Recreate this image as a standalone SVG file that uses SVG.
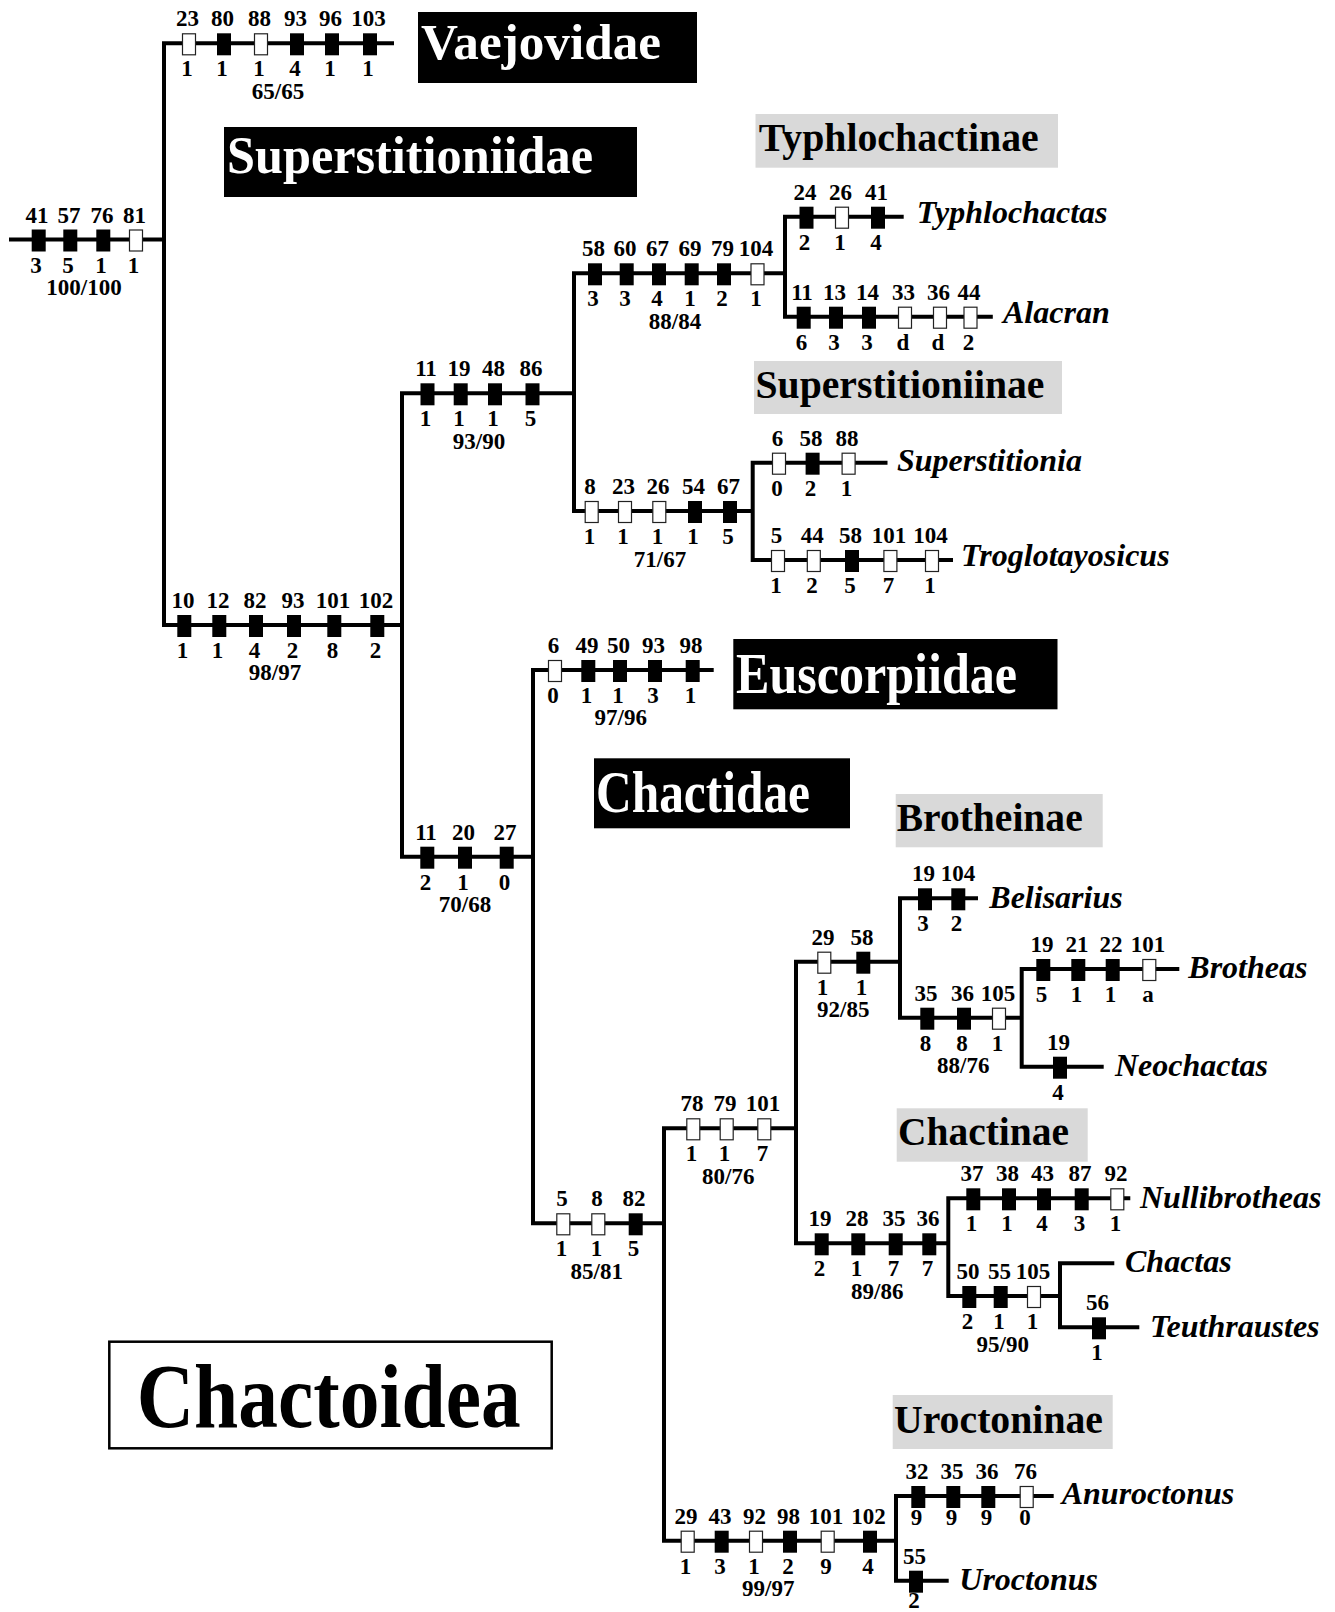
<svg xmlns="http://www.w3.org/2000/svg" xmlns:xlink="http://www.w3.org/1999/xlink" width="1335" height="1612" viewBox="0 0 1335 1612">
<style>
  text { font-family: "Liberation Serif", "Times New Roman", serif; font-weight: bold; }
  .n { font-size: 23px; text-anchor: middle; fill: #000; }
  .tx { font-size: 32px; font-style: italic; fill: #000; }
  .fam { fill: #fff; }
  .sub { font-size: 40px; fill: #000; }
  .tree { fill: none; stroke: #000; stroke-width: 4; stroke-linecap: square; stroke-linejoin: miter; }
</style>
<defs>
  <rect id="f" x="-7" y="-10" width="14" height="22" fill="#000"/>
  <rect id="o" x="-6.5" y="-9.5" width="13" height="21" fill="#fff" stroke="#222" stroke-width="1.2"/>
</defs>
<rect width="1335" height="1612" fill="#fff"/>

<!-- tree branches -->
<g id="connectors">
  <path class="tree" d="M11 239.5 H164 M164 43.3 V625 M164 43.3 H392 M164 625 H402
    M402 393.3 V856.7 M402 393.3 H574 M574 273.3 V511 M574 273.3 H785
    M785 216.7 V316.7 M785 216.7 H901.7 M785 316.7 H990.8
    M574 511 H752.7 M752.7 462.7 V560 M752.7 462.7 H885.5 M752.7 560 H951
    M402 856.7 H533 M533 670 V1223.3 M533 670 H711.7 M533 1223.3 H664
    M664 1128.3 V1540.7 M664 1128.3 H796 M796 961.7 V1243.3 M796 961.7 H900
    M900 898.3 V1017.7 M900 898.3 H976 M900 1017.7 H1021.7
    M1021.7 969 V1066.7 M1021.7 969 H1177.3 M1021.7 1066.7 H1101.7
    M796 1243.3 H948.3 M948.3 1198.3 V1296 M948.3 1198.3 H1128.3 M948.3 1296 H1060
    M1060 1263.3 V1327.3 M1060 1263.3 H1112.3 M1060 1327.3 H1137.3
    M664 1540.7 H896 M896 1496 V1580.7 M896 1496 H1051.7 M896 1580.7 H946.7"/>
</g>

<!-- character states on each branch -->
<g id="root">
  <use href="#f" x="38.7" y="239.5"/><use href="#f" x="70.3" y="239.5"/><use href="#f" x="103.3" y="239.5"/><use href="#o" x="136" y="239.5"/>
  <text class="n" x="37" y="222.5">41</text><text class="n" x="69" y="222.5">57</text><text class="n" x="102" y="222.5">76</text><text class="n" x="134.5" y="222.5">81</text>
  <text class="n" x="36" y="272.5">3</text><text class="n" x="68" y="272.5">5</text><text class="n" x="101" y="272.5">1</text><text class="n" x="133.5" y="272.5">1</text>
  <text class="n" x="84" y="294.5">100/100</text>
</g>
<g id="branch-vaejovidae">
  <use href="#o" x="189" y="43.3"/><use href="#f" x="224" y="43.3"/><use href="#o" x="261" y="43.3"/><use href="#f" x="297" y="43.3"/><use href="#f" x="332" y="43.3"/><use href="#f" x="370" y="43.3"/>
  <text class="n" x="187.5" y="26.3">23</text><text class="n" x="222.5" y="26.3">80</text><text class="n" x="259.5" y="26.3">88</text><text class="n" x="295.5" y="26.3">93</text><text class="n" x="330.5" y="26.3">96</text><text class="n" x="368.5" y="26.3">103</text>
  <text class="n" x="187" y="76.3">1</text><text class="n" x="222" y="76.3">1</text><text class="n" x="259" y="76.3">1</text><text class="n" x="295" y="76.3">4</text><text class="n" x="330" y="76.3">1</text><text class="n" x="368" y="76.3">1</text>
  <text class="n" x="278" y="99">65/65</text>
</g>
<g id="branch-superstitioniidae">
  <use href="#f" x="184.3" y="625"/><use href="#f" x="219.3" y="625"/><use href="#f" x="256" y="625"/><use href="#f" x="294" y="625"/><use href="#f" x="334.3" y="625"/><use href="#f" x="377.3" y="625"/>
  <text class="n" x="183" y="608">10</text><text class="n" x="218" y="608">12</text><text class="n" x="255" y="608">82</text><text class="n" x="293" y="608">93</text><text class="n" x="333" y="608">101</text><text class="n" x="376" y="608">102</text>
  <text class="n" x="182.5" y="658">1</text><text class="n" x="217.5" y="658">1</text><text class="n" x="254.5" y="658">4</text><text class="n" x="292.5" y="658">2</text><text class="n" x="332.5" y="658">8</text><text class="n" x="375.5" y="658">2</text>
  <text class="n" x="275" y="680">98/97</text>
</g>
<g id="branch-11-86">
  <use href="#f" x="427.5" y="393.3"/><use href="#f" x="460.7" y="393.3"/><use href="#f" x="495" y="393.3"/><use href="#f" x="532.5" y="393.3"/>
  <text class="n" x="426" y="376.3">11</text><text class="n" x="459" y="376.3">19</text><text class="n" x="493.5" y="376.3">48</text><text class="n" x="531" y="376.3">86</text>
  <text class="n" x="425.5" y="426.3">1</text><text class="n" x="459" y="426.3">1</text><text class="n" x="493" y="426.3">1</text><text class="n" x="530.5" y="426.3">5</text>
  <text class="n" x="479" y="448.5">93/90</text>
</g>
<g id="branch-typhlochactinae">
  <use href="#f" x="595" y="273.3"/><use href="#f" x="626.7" y="273.3"/><use href="#f" x="659" y="273.3"/><use href="#f" x="691.7" y="273.3"/><use href="#f" x="724" y="273.3"/><use href="#o" x="757.5" y="273.3"/>
  <text class="n" x="593.5" y="256.3">58</text><text class="n" x="625" y="256.3">60</text><text class="n" x="657.5" y="256.3">67</text><text class="n" x="690" y="256.3">69</text><text class="n" x="722.5" y="256.3">79</text><text class="n" x="756" y="256.3">104</text>
  <text class="n" x="593" y="306.3">3</text><text class="n" x="625" y="306.3">3</text><text class="n" x="657" y="306.3">4</text><text class="n" x="690" y="306.3">1</text><text class="n" x="722" y="306.3">2</text><text class="n" x="756" y="306.3">1</text>
  <text class="n" x="675" y="328.5">88/84</text>
</g>
<g id="branch-typhlochactas">
  <use href="#f" x="806.5" y="216.7"/><use href="#o" x="842" y="216.7"/><use href="#f" x="878" y="216.7"/>
  <text class="n" x="805" y="199.7">24</text><text class="n" x="840.5" y="199.7">26</text><text class="n" x="876.5" y="199.7">41</text>
  <text class="n" x="804.5" y="249.7">2</text><text class="n" x="840" y="249.7">1</text><text class="n" x="876" y="249.7">4</text>
</g>
<g id="branch-alacran">
  <use href="#f" x="803.7" y="316.7"/><use href="#f" x="836" y="316.7"/><use href="#f" x="869" y="316.7"/><use href="#o" x="905" y="316.7"/><use href="#o" x="940" y="316.7"/><use href="#o" x="970.5" y="316.7"/>
  <text class="n" x="802" y="299.7">11</text><text class="n" x="834.5" y="299.7">13</text><text class="n" x="867.5" y="299.7">14</text><text class="n" x="903.5" y="299.7">33</text><text class="n" x="938.5" y="299.7">36</text><text class="n" x="969" y="299.7">44</text>
  <text class="n" x="801.5" y="349.7">6</text><text class="n" x="834" y="349.7">3</text><text class="n" x="867" y="349.7">3</text><text class="n" x="903" y="349.7">d</text><text class="n" x="938" y="349.7">d</text><text class="n" x="968.5" y="349.7">2</text>
</g>
<g id="branch-superstitioniinae">
  <use href="#o" x="591.7" y="511"/><use href="#o" x="625" y="511"/><use href="#o" x="659.3" y="511"/><use href="#f" x="695" y="511"/><use href="#f" x="730" y="511"/>
  <text class="n" x="590" y="494">8</text><text class="n" x="623.5" y="494">23</text><text class="n" x="658" y="494">26</text><text class="n" x="693.5" y="494">54</text><text class="n" x="728.5" y="494">67</text>
  <text class="n" x="589.5" y="544">1</text><text class="n" x="623" y="544">1</text><text class="n" x="657.5" y="544">1</text><text class="n" x="693" y="544">1</text><text class="n" x="728" y="544">5</text>
  <text class="n" x="660" y="566.5">71/67</text>
</g>
<g id="branch-superstitionia">
  <use href="#o" x="779" y="462.7"/><use href="#f" x="812.6" y="462.7"/><use href="#o" x="848.6" y="462.7"/>
  <text class="n" x="777.5" y="445.7">6</text><text class="n" x="811" y="445.7">58</text><text class="n" x="847" y="445.7">88</text>
  <text class="n" x="777" y="495.7">0</text><text class="n" x="810.5" y="495.7">2</text><text class="n" x="846.5" y="495.7">1</text>
</g>
<g id="branch-troglotayosicus">
  <use href="#o" x="778" y="560"/><use href="#o" x="813.8" y="560"/><use href="#f" x="852" y="560"/><use href="#o" x="890.4" y="560"/><use href="#o" x="932" y="560"/>
  <text class="n" x="776.5" y="543">5</text><text class="n" x="812.3" y="543">44</text><text class="n" x="850.5" y="543">58</text><text class="n" x="889" y="543">101</text><text class="n" x="930.5" y="543">104</text>
  <text class="n" x="776" y="593">1</text><text class="n" x="812" y="593">2</text><text class="n" x="850" y="593">5</text><text class="n" x="888.5" y="593">7</text><text class="n" x="930" y="593">1</text>
</g>
<g id="branch-11-27">
  <use href="#f" x="427.3" y="856.7"/><use href="#f" x="465" y="856.7"/><use href="#f" x="506.7" y="856.7"/>
  <text class="n" x="426" y="839.7">11</text><text class="n" x="463.5" y="839.7">20</text><text class="n" x="505" y="839.7">27</text>
  <text class="n" x="425.5" y="889.7">2</text><text class="n" x="463" y="889.7">1</text><text class="n" x="504.5" y="889.7">0</text>
  <text class="n" x="465" y="912">70/68</text>
</g>
<g id="branch-euscorpiidae">
  <use href="#o" x="555" y="670"/><use href="#f" x="588.3" y="670"/><use href="#f" x="620" y="670"/><use href="#f" x="655" y="670"/><use href="#f" x="692.7" y="670"/>
  <text class="n" x="553.5" y="653">6</text><text class="n" x="587" y="653">49</text><text class="n" x="618.5" y="653">50</text><text class="n" x="653.5" y="653">93</text><text class="n" x="691" y="653">98</text>
  <text class="n" x="553" y="703">0</text><text class="n" x="586.5" y="703">1</text><text class="n" x="618" y="703">1</text><text class="n" x="653" y="703">3</text><text class="n" x="690.5" y="703">1</text>
  <text class="n" x="620.7" y="725">97/96</text>
</g>
<g id="branch-chactidae">
  <use href="#o" x="563.3" y="1223.3"/><use href="#o" x="598.3" y="1223.3"/><use href="#f" x="635.7" y="1223.3"/>
  <text class="n" x="562" y="1206.3">5</text><text class="n" x="597" y="1206.3">8</text><text class="n" x="634" y="1206.3">82</text>
  <text class="n" x="561.5" y="1256.3">1</text><text class="n" x="596.5" y="1256.3">1</text><text class="n" x="633.5" y="1256.3">5</text>
  <text class="n" x="596.7" y="1278.5">85/81</text>
</g>
<g id="branch-78-101">
  <use href="#o" x="693.3" y="1128.3"/><use href="#o" x="726.7" y="1128.3"/><use href="#o" x="764.3" y="1128.3"/>
  <text class="n" x="692" y="1111.3">78</text><text class="n" x="725" y="1111.3">79</text><text class="n" x="763" y="1111.3">101</text>
  <text class="n" x="691.5" y="1161.3">1</text><text class="n" x="724.5" y="1161.3">1</text><text class="n" x="762.5" y="1161.3">7</text>
  <text class="n" x="728.3" y="1183.5">80/76</text>
</g>
<g id="branch-brotheinae">
  <use href="#o" x="824.3" y="961.7"/><use href="#f" x="863.3" y="961.7"/>
  <text class="n" x="823" y="944.7">29</text><text class="n" x="862" y="944.7">58</text>
  <text class="n" x="822.5" y="994.7">1</text><text class="n" x="861.5" y="994.7">1</text>
  <text class="n" x="843.3" y="1017">92/85</text>
</g>
<g id="branch-belisarius">
  <use href="#f" x="925" y="898.3"/><use href="#f" x="958.3" y="898.3"/>
  <text class="n" x="923.5" y="881.3">19</text><text class="n" x="958" y="881.3">104</text>
  <text class="n" x="923" y="931.3">3</text><text class="n" x="956.5" y="931.3">2</text>
</g>
<g id="branch-35-105">
  <use href="#f" x="927.3" y="1017.7"/><use href="#f" x="964" y="1017.7"/><use href="#o" x="999" y="1017.7"/>
  <text class="n" x="926" y="1000.7">35</text><text class="n" x="962.5" y="1000.7">36</text><text class="n" x="998" y="1000.7">105</text>
  <text class="n" x="925.5" y="1050.7">8</text><text class="n" x="962" y="1050.7">8</text><text class="n" x="997.5" y="1050.7">1</text>
  <text class="n" x="963.3" y="1073">88/76</text>
</g>
<g id="branch-brotheas">
  <use href="#f" x="1043.3" y="969"/><use href="#f" x="1078.3" y="969"/><use href="#f" x="1112.7" y="969"/><use href="#o" x="1149.3" y="969"/>
  <text class="n" x="1042" y="952">19</text><text class="n" x="1077" y="952">21</text><text class="n" x="1111" y="952">22</text><text class="n" x="1148" y="952">101</text>
  <text class="n" x="1041.5" y="1002">5</text><text class="n" x="1076.5" y="1002">1</text><text class="n" x="1110.5" y="1002">1</text><text class="n" x="1148" y="1002">a</text>
</g>
<g id="branch-neochactas">
  <use href="#f" x="1060" y="1066.7"/>
  <text class="n" x="1058.5" y="1049.7">19</text>
  <text class="n" x="1058" y="1099.7">4</text>
</g>
<g id="branch-chactinae">
  <use href="#f" x="821.7" y="1243.3"/><use href="#f" x="858.3" y="1243.3"/><use href="#f" x="895.7" y="1243.3"/><use href="#f" x="929.3" y="1243.3"/>
  <text class="n" x="820" y="1226.3">19</text><text class="n" x="857" y="1226.3">28</text><text class="n" x="894" y="1226.3">35</text><text class="n" x="928" y="1226.3">36</text>
  <text class="n" x="819.5" y="1276.3">2</text><text class="n" x="856.5" y="1276.3">1</text><text class="n" x="893.5" y="1276.3">7</text><text class="n" x="927.5" y="1276.3">7</text>
  <text class="n" x="877.3" y="1298.5">89/86</text>
</g>
<g id="branch-nullibrotheas">
  <use href="#f" x="973.3" y="1198.3"/><use href="#f" x="1009" y="1198.3"/><use href="#f" x="1044" y="1198.3"/><use href="#f" x="1081.7" y="1198.3"/><use href="#o" x="1117.3" y="1198.3"/>
  <text class="n" x="972" y="1181.3">37</text><text class="n" x="1007.5" y="1181.3">38</text><text class="n" x="1042.5" y="1181.3">43</text><text class="n" x="1080" y="1181.3">87</text><text class="n" x="1116" y="1181.3">92</text>
  <text class="n" x="971.5" y="1231.3">1</text><text class="n" x="1007" y="1231.3">1</text><text class="n" x="1042" y="1231.3">4</text><text class="n" x="1079.5" y="1231.3">3</text><text class="n" x="1115.5" y="1231.3">1</text>
</g>
<g id="branch-50-105">
  <use href="#f" x="969.3" y="1296"/><use href="#f" x="1000.7" y="1296"/><use href="#o" x="1034" y="1296"/>
  <text class="n" x="968" y="1279">50</text><text class="n" x="999.5" y="1279">55</text><text class="n" x="1033" y="1279">105</text>
  <text class="n" x="967.5" y="1329">2</text><text class="n" x="999" y="1329">1</text><text class="n" x="1032.5" y="1329">1</text>
  <text class="n" x="1002.7" y="1352">95/90</text>
</g>
<g id="branch-teuthraustes">
  <use href="#f" x="1099" y="1327.3"/>
  <text class="n" x="1097.5" y="1310.3">56</text>
  <text class="n" x="1097" y="1360.3">1</text>
</g>
<g id="branch-uroctoninae">
  <use href="#o" x="687.7" y="1540.7"/><use href="#f" x="721.7" y="1540.7"/><use href="#o" x="756" y="1540.7"/><use href="#f" x="790" y="1540.7"/><use href="#o" x="827.7" y="1540.7"/><use href="#f" x="870" y="1540.7"/>
  <text class="n" x="686" y="1523.7">29</text><text class="n" x="720" y="1523.7">43</text><text class="n" x="754.5" y="1523.7">92</text><text class="n" x="788.5" y="1523.7">98</text><text class="n" x="826" y="1523.7">101</text><text class="n" x="868.5" y="1523.7">102</text>
  <text class="n" x="685.5" y="1573.7">1</text><text class="n" x="720" y="1573.7">3</text><text class="n" x="754" y="1573.7">1</text><text class="n" x="788" y="1573.7">2</text><text class="n" x="826" y="1573.7">9</text><text class="n" x="868" y="1573.7">4</text>
  <text class="n" x="768.3" y="1596">99/97</text>
</g>
<g id="branch-anuroctonus">
  <use href="#f" x="918.3" y="1496"/><use href="#f" x="953.3" y="1496"/><use href="#f" x="988.3" y="1496"/><use href="#o" x="1026.7" y="1496"/>
  <text class="n" x="917" y="1479">32</text><text class="n" x="952" y="1479">35</text><text class="n" x="987" y="1479">36</text><text class="n" x="1025.5" y="1479">76</text>
  <text class="n" x="916.5" y="1525">9</text><text class="n" x="951.5" y="1525">9</text><text class="n" x="986.5" y="1525">9</text><text class="n" x="1025" y="1525">0</text>
</g>
<g id="branch-uroctonus">
  <use href="#f" x="916" y="1580.7"/>
  <text class="n" x="914.5" y="1563.7">55</text>
  <text class="n" x="914" y="1607.5" font-size="21">2</text>
</g>

<!-- terminal taxa -->
<g id="taxon-typhlochactas"><text class="tx" x="916.7" y="223.3">Typhlochactas</text></g>
<g id="taxon-alacran"><text class="tx" x="1003" y="323.3">Alacran</text></g>
<g id="taxon-superstitionia"><text class="tx" x="897" y="470.7">Superstitionia</text></g>
<g id="taxon-troglotayosicus"><text class="tx" x="961" y="566">Troglotayosicus</text></g>
<g id="taxon-belisarius"><text class="tx" x="989.3" y="907.5">Belisarius</text></g>
<g id="taxon-brotheas"><text class="tx" x="1188.3" y="978">Brotheas</text></g>
<g id="taxon-neochactas"><text class="tx" x="1115" y="1076">Neochactas</text></g>
<g id="taxon-nullibrotheas"><text class="tx" x="1140" y="1207.5">Nullibrotheas</text></g>
<g id="taxon-chactas"><text class="tx" x="1125" y="1271.7">Chactas</text></g>
<g id="taxon-teuthraustes"><text class="tx" x="1150" y="1336.5">Teuthraustes</text></g>
<g id="taxon-anuroctonus"><text class="tx" x="1061.7" y="1503.5">Anuroctonus</text></g>
<g id="taxon-uroctonus"><text class="tx" x="959.3" y="1590">Uroctonus</text></g>

<!-- family labels -->
<g id="family-vaejovidae">
  <rect x="418" y="12" width="279" height="71" fill="#000"/>
  <text class="fam" x="421" y="59" font-size="51" textLength="240" lengthAdjust="spacingAndGlyphs">Vaejovidae</text>
</g>
<g id="family-superstitioniidae">
  <rect x="224" y="127" width="413" height="70" fill="#000"/>
  <text class="fam" x="227" y="173" font-size="52" textLength="366" lengthAdjust="spacingAndGlyphs">Superstitioniidae</text>
</g>
<g id="family-euscorpiidae">
  <rect x="733.3" y="639" width="324.2" height="70.3" fill="#000"/>
  <text class="fam" x="736" y="692.7" font-size="56" textLength="281" lengthAdjust="spacingAndGlyphs">Euscorpiidae</text>
</g>
<g id="family-chactidae">
  <rect x="594" y="758.3" width="256" height="70" fill="#000"/>
  <text class="fam" x="596" y="811.7" font-size="60" textLength="214" lengthAdjust="spacingAndGlyphs">Chactidae</text>
</g>

<!-- subfamily labels -->
<g id="subfamily-typhlochactinae">
  <rect x="755.5" y="114" width="302.5" height="53.7" fill="#d9d9d9"/>
  <text class="sub" x="758.7" y="150.7" textLength="280" lengthAdjust="spacingAndGlyphs">Typhlochactinae</text>
</g>
<g id="subfamily-superstitioniinae">
  <rect x="754" y="361" width="308" height="53" fill="#d9d9d9"/>
  <text class="sub" x="755.5" y="398" textLength="289" lengthAdjust="spacingAndGlyphs">Superstitioniinae</text>
</g>
<g id="subfamily-brotheinae">
  <rect x="895.7" y="794" width="207" height="53.3" fill="#d9d9d9"/>
  <text class="sub" x="896.7" y="830.7" textLength="186" lengthAdjust="spacingAndGlyphs">Brotheinae</text>
</g>
<g id="subfamily-chactinae">
  <rect x="896.7" y="1108.3" width="191" height="53.4" fill="#d9d9d9"/>
  <text class="sub" x="898" y="1145" textLength="171" lengthAdjust="spacingAndGlyphs">Chactinae</text>
</g>
<g id="subfamily-uroctoninae">
  <rect x="892.7" y="1395" width="220" height="54" fill="#d9d9d9"/>
  <text class="sub" x="894" y="1433.3" textLength="209" lengthAdjust="spacingAndGlyphs">Uroctoninae</text>
</g>

<!-- superfamily title -->
<g id="superfamily-chactoidea">
  <rect x="109.3" y="1341.7" width="442.4" height="106.6" fill="#fff" stroke="#000" stroke-width="2.5"/>
  <text x="136.7" y="1426.7" font-size="92" textLength="384" lengthAdjust="spacingAndGlyphs" fill="#000">Chactoidea</text>
</g>
</svg>
